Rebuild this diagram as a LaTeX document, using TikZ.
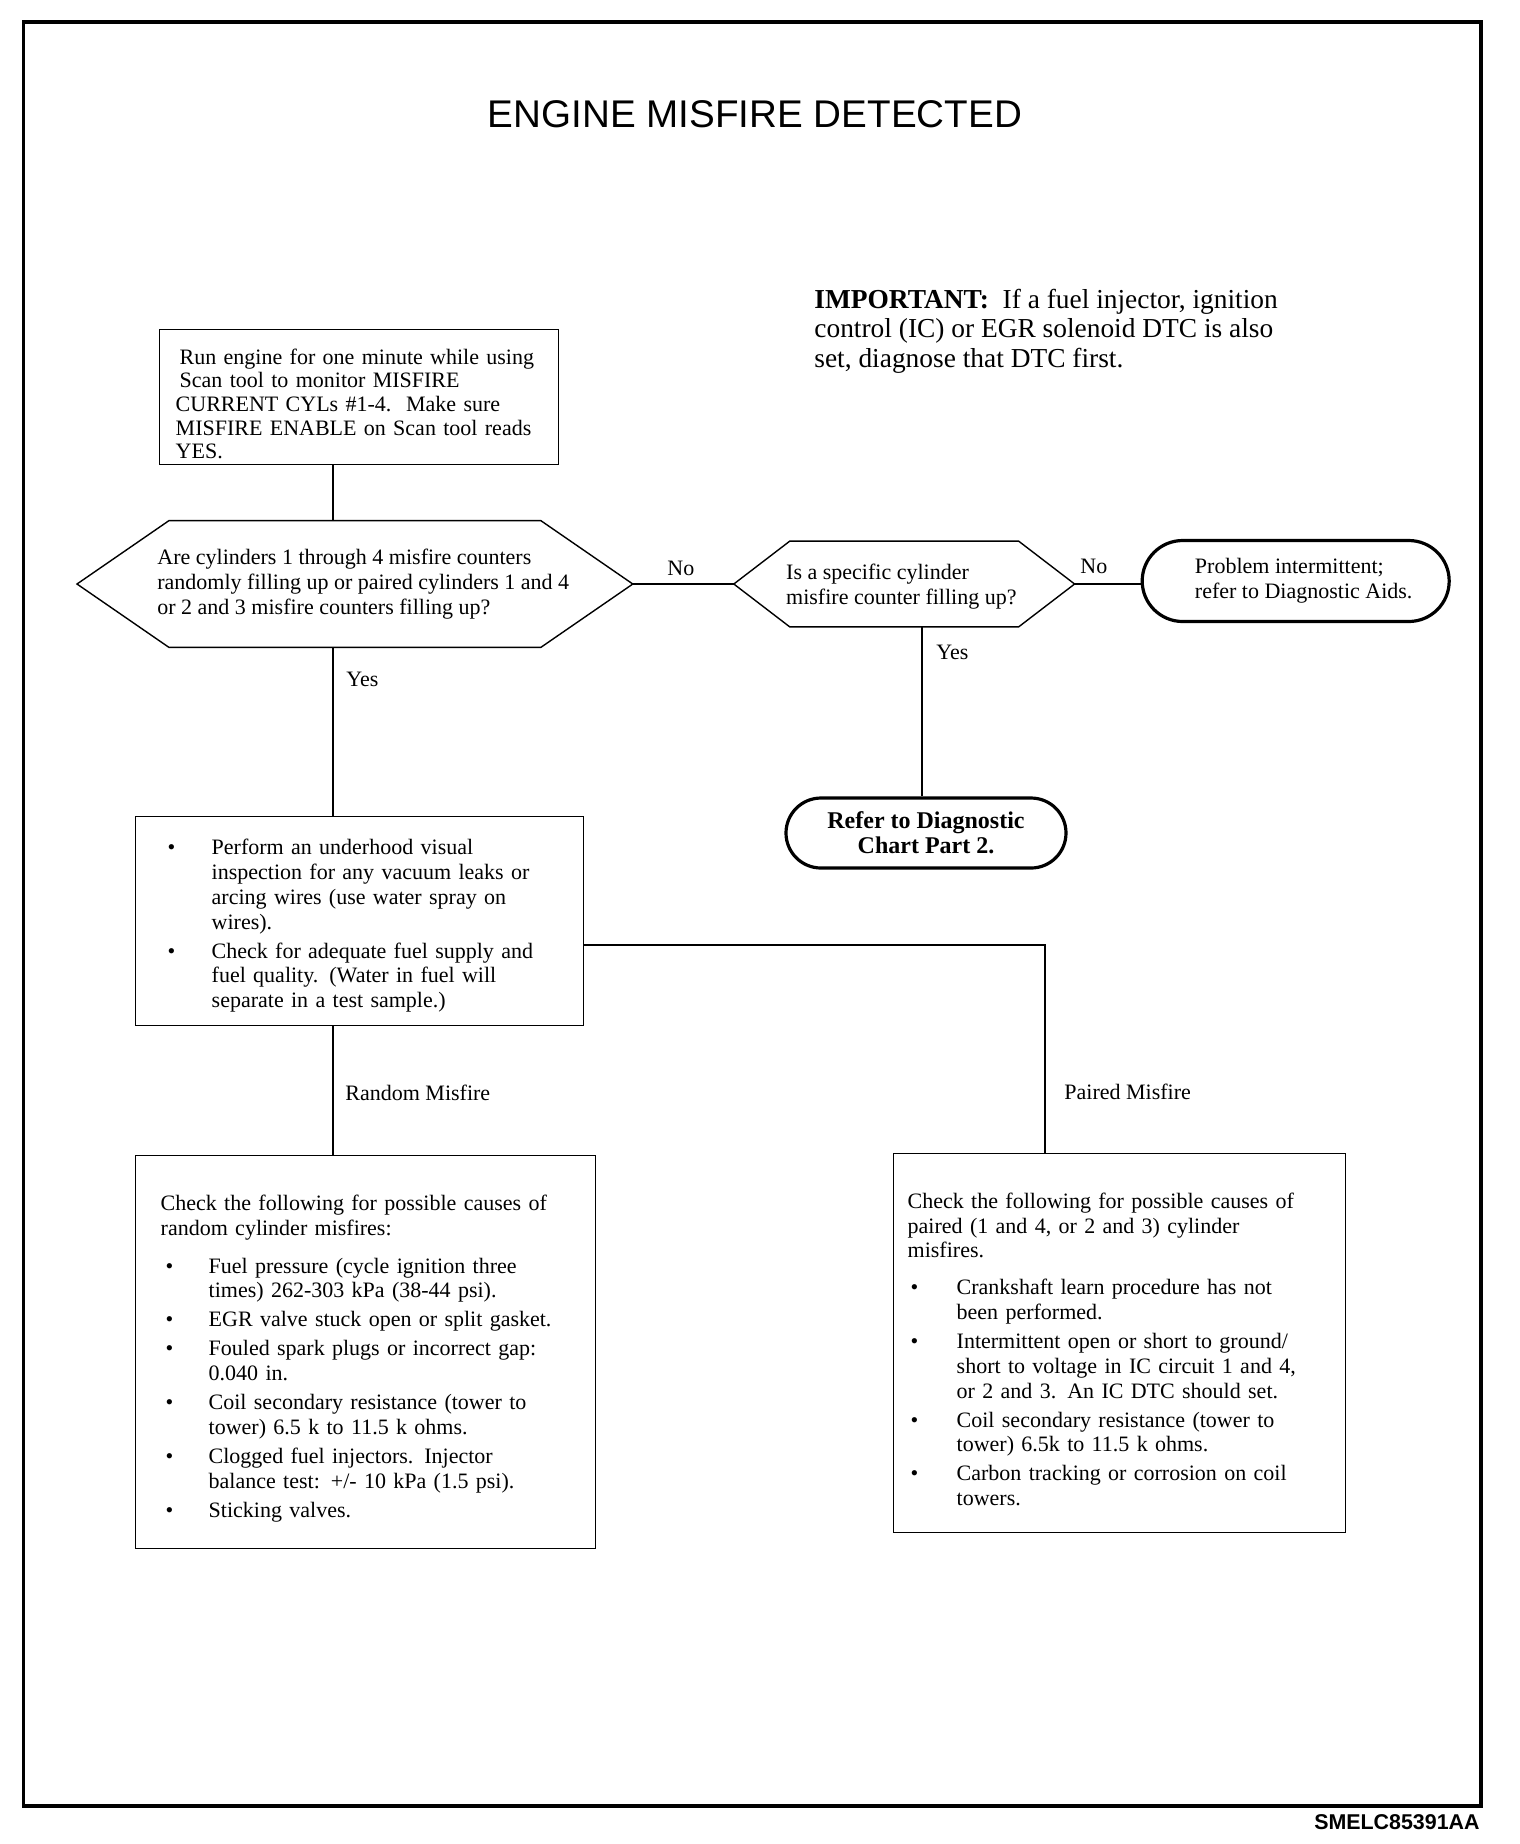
\documentclass[tikz,border=0pt]{standalone}
\usepackage{fontspec}
\setmainfont{Liberation Serif}
\newfontfamily\headfont{Liberation Sans}
\usetikzlibrary{positioning,calc,shapes.misc}

% bullet list used inside the check boxes: #1 bullet offset, #2 text indent
\newenvironment{causes}[2]{%
  \begin{list}{\textbullet}{%
    \setlength{\leftmargin}{#2}%
    \setlength{\labelwidth}{#2}%
    \setlength{\labelsep}{0pt}%
    \setlength{\itemindent}{0pt}%
    \setlength{\itemsep}{2.1pt}%
    \setlength{\parsep}{0pt}%
    \setlength{\topsep}{0pt}%
    \setlength{\partopsep}{0pt}%
    \def\makelabel##1{\hspace*{#1}##1\hfil}}}%
  {\end{list}}

% six-sided question frame drawn round a (hidden) rectangle node
\newcommand{\hexframe}[2]{%
  \draw[hexa] (#1.west) -- ([xshift=#2]#1.north west) -- ([xshift=-#2]#1.north east)
    -- (#1.east) -- ([xshift=-#2]#1.south east) -- ([xshift=#2]#1.south west) -- cycle;}

\begin{document}
\begin{tikzpicture}[
  x=0.5pt, y=-0.5pt,
  font=\fontsize{11pt}{12.4pt}\selectfont,
  box/.style={
    rectangle,
    draw=black,
    line width=0.7pt,
    inner ysep=0pt,
    align=left,
    anchor=north west,
  },
  quest/.style={rectangle, inner sep=0pt},
  qtext/.style={inner sep=0pt, align=left},
  hexa/.style={line width=0.7pt, line join=miter},
  stop/.style={
    rounded rectangle,
    draw=black,
    line width=1.6pt,
    inner sep=0pt,
  },
  link/.style={line width=0.75pt},
  tag/.style={anchor=west, inner sep=0pt},
  frame/.style={line width=1.8pt},
]

  \useasboundingbox (0,0) rectangle (1520,1844);
  \draw[frame] (23.5,22) rectangle (1481,1806);

  % --- heading and note ---
  \node[font=\headfont\fontsize{19.3pt}{22pt}\selectfont] (head) at (755,114) {ENGINE MISFIRE DETECTED};
  \node[qtext, anchor=west, font=\fontsize{13.7pt}{14.75pt}\selectfont] (note) at (814,331)
    {\textbf{IMPORTANT:}\ \ If a fuel injector, ignition\\control (IC) or EGR solenoid DTC is also\\set, diagnose that DTC first.};
  \node[anchor=east, inner sep=0pt, font=\headfont\bfseries\fontsize{10.7pt}{12pt}\selectfont] (code) at (1480,1822) {SMELC85391AA};

  % --- first step and questions ---
  \node[box, minimum width=199.5pt, minimum height=67.5pt, inner xsep=8pt, text width=183.5pt,
        font=\fontsize{11pt}{11.8pt}\selectfont] (run) at (159,329)
    {\rule{0pt}{14.5pt}\hspace*{2pt}Run engine for one minute while using\\
     \hspace*{2pt}Scan tool to monitor MISFIRE\\
     CURRENT CYLs \#1-4.\ \ Make sure\\
     MISFIRE ENABLE on Scan tool reads\\
     YES.};

  \node[quest, anchor=west, minimum width=277.5pt, minimum height=63pt] (q1) at (77,584) {};
  \hexframe{q1}{46pt}
  \node[qtext, right=40pt of q1.west] (q1txt)
    {Are cylinders 1 through 4 misfire counters\\randomly filling up or paired cylinders 1 and 4\\or 2 and 3 misfire counters filling up?};

  \node[quest, minimum width=170pt, minimum height=42.5pt, right=50.5pt of q1] (q2) {};
  \hexframe{q2}{28pt}
  \node[qtext, right=26pt of q2.west, yshift=-1.5pt] (q2txt)
    {Is a specific cylinder\\misfire counter filling up?};

  \node[stop, minimum width=153.5pt, minimum height=40.5pt, align=left, right=33pt of q2, yshift=1.5pt] (stop)
    {\hspace*{8pt}Problem intermittent;\\\hspace*{8pt}refer to Diagnostic Aids.};
  \node[stop, minimum width=140pt, minimum height=35pt, align=center, font=\bfseries\fontsize{12pt}{12.5pt}\selectfont] (refer) at (926,833)
    {Refer to Diagnostic\\Chart Part 2.};

  % --- check boxes ---
  \node[box, minimum width=224pt, minimum height=104.5pt, inner xsep=16pt, text width=192pt] (inspect) at (135,816)
    {\begin{causes}{0pt}{22pt}
     \item Perform an underhood visual\\inspection for any vacuum leaks or\\arcing wires (use water spray on\\wires).
     \item Check for adequate fuel supply and\\fuel quality. (Water in fuel will\\separate in a test sample.)
     \end{causes}};

  \node[box, minimum width=230pt, minimum height=196.5pt, inner xsep=12.5pt, text width=205pt] (random) at (135,1155)
    {\rule{0pt}{14pt}Check the following for possible causes of\\random cylinder misfires:\par\vspace{6.5pt}
     \begin{causes}{2.5pt}{24pt}
     \item Fuel pressure (cycle ignition three\\times) 262-303 kPa (38-44 psi).
     \item EGR valve stuck open or split gasket.
     \item Fouled spark plugs or incorrect gap:\\0.040 in.
     \item Coil secondary resistance (tower to\\tower) 6.5 k to 11.5 k ohms.
     \item Clogged fuel injectors. Injector\\balance test: +/- 10 kPa (1.5 psi).
     \item Sticking valves.
     \end{causes}};

  \node[box, minimum width=226pt, minimum height=189.5pt, inner xsep=7pt, text width=212pt] (paired) at (893,1153)
    {\rule{0pt}{14pt}Check the following for possible causes of\\paired (1 and 4, or 2 and 3) cylinder\\misfires.\par\vspace{6pt}
     \begin{causes}{1.5pt}{24.5pt}
     \item Crankshaft learn procedure has not\\been performed.
     \item Intermittent open or short to ground/\\short to voltage in IC circuit 1 and 4,\\or 2 and 3. An IC DTC should set.
     \item Coil secondary resistance (tower to\\tower) 6.5k to 11.5 k ohms.
     \item Carbon tracking or corrosion on coil\\towers.
     \end{causes}};

  % --- connectors ---
  \coordinate (lane1) at (333,0);
  \coordinate (lane2) at (922,0);
  \coordinate (lane3) at (1045,945);

  \draw[link] (run.south -| lane1) -- (q1.north -| lane1);
  \draw[link] (q1.south -| lane1) -- (inspect.north -| lane1);
  \draw[link] (inspect.south -| lane1) -- (random.north -| lane1);
  \draw[link] (q1.east) -- (q2.west);
  \draw[link] (q2.east) -- (q2.east -| stop.west);
  \draw[link] (q2.south -| lane2) -- (refer.north -| lane2);
  \draw[link] (inspect.east |- lane3) -| (paired.north -| lane3);

  \node[tag] (no1) at (667,568) {No};
  \node[tag] (no2) at (1080,566) {No};
  \node[tag] (yes1) at (346,679) {Yes};
  \node[tag] (yes2) at (936,652) {Yes};
  \node[tag] (randomtag) at (345,1093) {Random Misfire};
  \node[tag] (pairedtag) at (1064,1092) {Paired Misfire};

\end{tikzpicture}
\end{document}
